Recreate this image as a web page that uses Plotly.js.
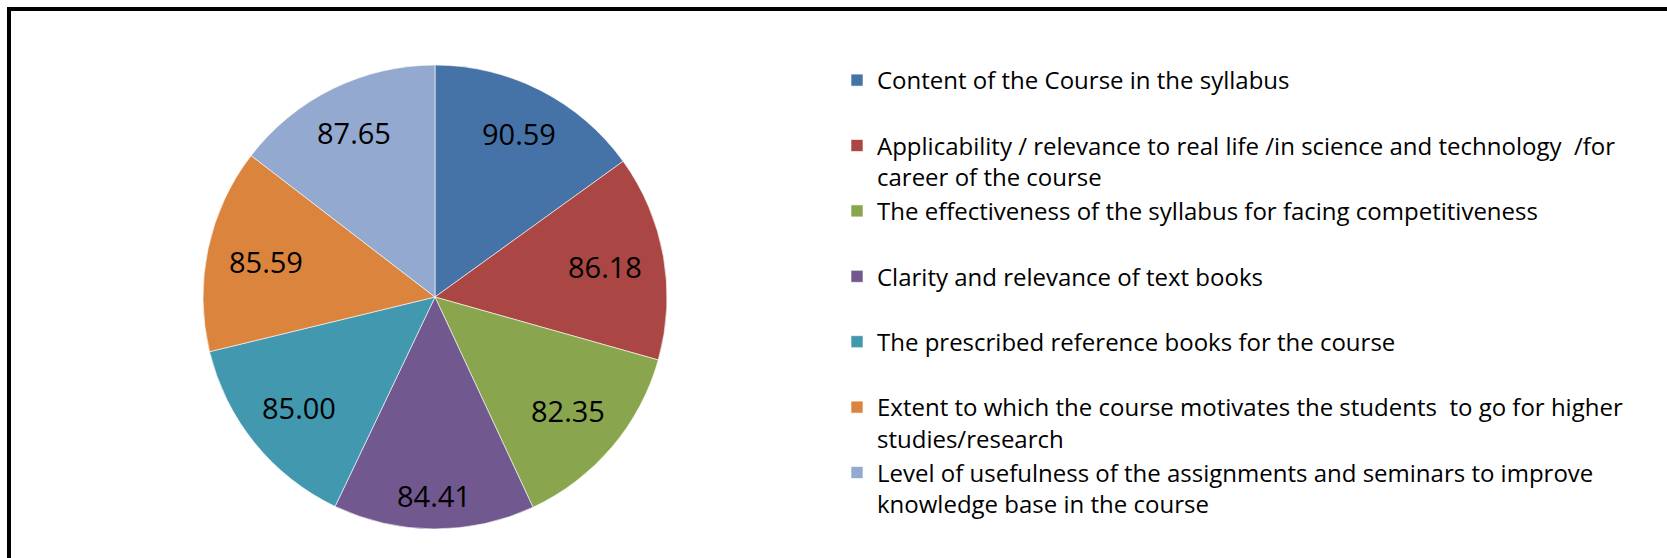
<!DOCTYPE html>
<html>
<head>
<meta charset="utf-8">
<script src="https://cdn.plot.ly/plotly-3.0.1.min.js"></script>
<style>
  html, body { margin: 0; padding: 0; background: #ffffff; }
  #chart { width: 1667px; height: 558px; }
</style>
</head>
<body>
<div id="chart"></div>
<script>
// ---- data ----
const categories = [
  "Content of the Course in the syllabus",
  "Applicability / relevance to real life /in science and technology  /for<br>career of the course",
  "The effectiveness of the syllabus for facing competitiveness",
  "Clarity and relevance of text books",
  "The prescribed reference books for the course",
  "Extent to which the course motivates the students  to go for higher<br>studies/research",
  "Level of usefulness of the assignments and seminars to improve<br>knowledge base in the course"
];
const values = [90.59, 86.18, 82.35, 84.41, 85.00, 85.59, 87.65];
const colors = ["#4572A7", "#AA4643", "#89A54E", "#71588F", "#4198AF", "#DB843D", "#93A9CF"];

// pad single-line legend entries so every entry occupies two lines (Excel-like slots)
const legendLabels = categories.map(c => c.indexOf("<br>") >= 0 ? c : c + "<br> ");

const W = 1667, H = 558;
const cx = 435, cy = 297, R = 232;
const labelFont = "Open Sans, Liberation Sans, Arial, sans-serif";
const labelSize = 29;
const rimMargin = 21;

// Excel "best fit"-like label placement: push each label outward along the slice
// bisector until its box is a fixed margin inside the rim.
const ctx = document.createElement("canvas").getContext("2d");
ctx.font = labelSize + "px 'Open Sans'";
const total = values.reduce((a, b) => a + b, 0);
let cum = 0;
const annotations = values.map(v => {
  const theta = (cum + v / 2) / total * 2 * Math.PI;  // from 12 o'clock, clockwise
  cum += v;
  const txt = v.toFixed(2);
  const w = ctx.measureText(txt).width;
  const h = 0.83 * labelSize;
  const s = Math.sin(theta), c = Math.cos(theta);
  const ext = (w / 2) * Math.abs(s) + (h / 2) * Math.abs(c);
  const r = R - rimMargin - ext;
  return {
    xref: "paper", yref: "paper",
    x: (cx + r * s) / W, y: 1 - (cy - r * c) / H,
    xanchor: "center", yanchor: "middle",
    text: txt, showarrow: false,
    font: { family: labelFont, size: labelSize, color: "#000000" }
  };
});

const trace = {
  type: "pie",
  labels: legendLabels,
  values: values,
  sort: false,
  direction: "clockwise",
  rotation: 0,
  marker: { colors: colors, line: { color: "rgba(255,255,255,0.6)", width: 1 } },
  textinfo: "none",
  textposition: "none",
  hoverinfo: "label+value",
  domain: { x: [(cx - R) / W, (cx + R) / W], y: [(H - cy - R) / H, (H - cy + R) / H] }
};

const layout = {
  width: W,
  height: H,
  margin: { l: 0, r: 0, t: 0, b: 0, autoexpand: false },
  paper_bgcolor: "#ffffff",
  plot_bgcolor: "#ffffff",
  showlegend: true,
  legend: {
    xref: "paper", yref: "paper",
    x: 837 / W, xanchor: "left",
    y: 1 - 58 / H, yanchor: "top",
    valign: "top",
    font: { family: "Open Sans, Liberation Sans, Arial, sans-serif", size: 24, color: "#000000" },
    bgcolor: "rgba(0,0,0,0)",
    borderwidth: 0
  },
  annotations: annotations,
  shapes: [{
    type: "rect", xref: "paper", yref: "paper",
    x0: 9 / W, x1: 1.02, y0: -0.02, y1: 1 - 9 / H,
    line: { color: "#000000", width: 4 },
    fillcolor: "rgba(0,0,0,0)"
  }]
};

Plotly.newPlot("chart", [trace], layout, { displayModeBar: false, staticPlot: true });
</script>
</body>
</html>
